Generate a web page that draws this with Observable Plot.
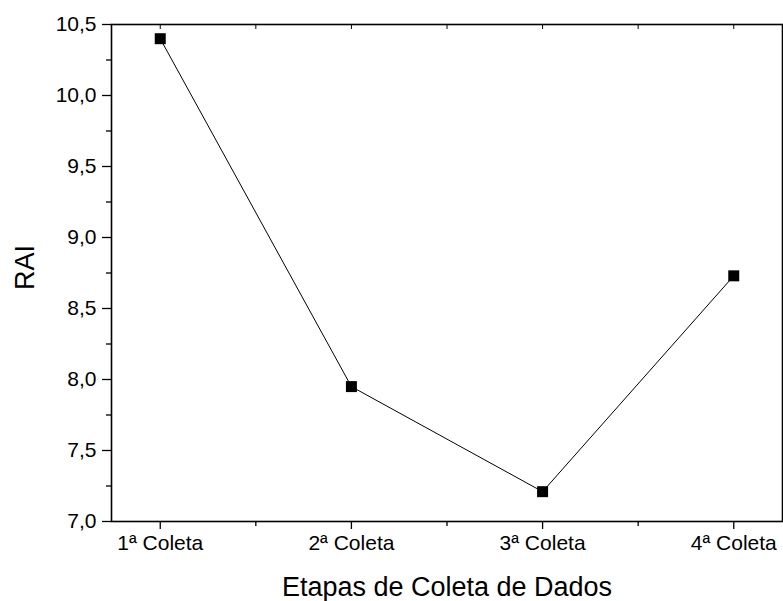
<!DOCTYPE html>
<html>
<head>
<meta charset="utf-8">
<script src="https://cdn.jsdelivr.net/npm/d3@7"></script>
<script src="https://cdn.jsdelivr.net/npm/@observablehq/plot@0.6"></script>
<style>
  html, body { margin: 0; padding: 0; background: #fff; }
  #chart svg { display: block; }
</style>
</head>
<body>
<div id="chart"></div>
<script>
const categories = ["1ª Coleta", "2ª Coleta", "3ª Coleta", "4ª Coleta"];
const raiValues = [10.40, 7.95, 7.21, 8.73];
const yMajorTicks = [7.0, 7.5, 8.0, 8.5, 9.0, 9.5, 10.0, 10.5];
const yMinorTicks = [7.25, 7.75, 8.25, 8.75, 9.25, 9.75, 10.25];
const xMajorTicks = [1, 2, 3, 4];
const xMinorTicks = [1.5, 2.5, 3.5];
const yLabel = "RAI";
const xLabel = "Etapas de Coleta de Dados";

const data = categories.map((c, i) => ({idx: i + 1, cat: c, rai: raiValues[i]}));
const fmt = d => d.toFixed(1).replace(".", ",");
const blank = () => "";

const chart = Plot.plot({
  width: 783,
  height: 601,
  marginLeft: 111,
  marginRight: 1,
  marginTop: 24,
  marginBottom: 80,
  style: {fontFamily: "'Liberation Sans', Arial, sans-serif", color: "black", background: "white"},
  x: {domain: [0.745, 4.255]},
  y: {domain: [7, 10.5]},
  marks: [
    Plot.axisY({ticks: yMajorTicks, tickFormat: fmt, tickSize: 9, tickPadding: 6, fontSize: 21, label: null, strokeWidth: 1.3}),
    Plot.axisY({ticks: yMinorTicks, tickFormat: blank, tickSize: 5, label: null, strokeWidth: 1.3}),
    Plot.axisX({ticks: xMajorTicks, tickFormat: i => categories[i - 1], tickSize: 8, tickPadding: 6, fontSize: 21, label: null, strokeWidth: 1.3}),
    Plot.axisX({ticks: xMinorTicks, tickFormat: blank, tickSize: 5, label: null, strokeWidth: 1.3}),
    Plot.axisX({anchor: "top", ticks: xMajorTicks.concat(xMinorTicks), tickFormat: blank, tickSize: -4, label: null, strokeWidth: 1}),
    Plot.frame({stroke: "black", strokeWidth: 1.6}),
    Plot.line(data, {x: "idx", y: "rai", stroke: "black", strokeWidth: 1}),
    Plot.dot(data, {x: "idx", y: "rai", symbol: "square", r: 6.2, fill: "black", stroke: null}),
    Plot.text([yLabel], {frameAnchor: "left", dx: -86, dy: 17, rotate: -90, fontSize: 27, fill: "black"}),
    Plot.text([xLabel], {frameAnchor: "bottom", dy: 66, fontSize: 27, fill: "black", lineAnchor: "middle"})
  ]
});
document.getElementById("chart").appendChild(chart);
</script>
</body>
</html>
